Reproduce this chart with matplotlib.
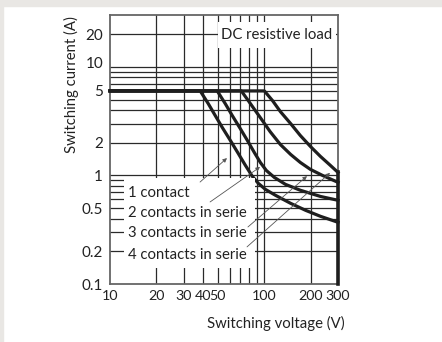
import matplotlib
matplotlib.use("Agg")
import matplotlib.pyplot as plt
from matplotlib.patches import Rectangle

# switching voltage (V) / current (A)
v_1 = [10, 38.4, 43.3, 48.1, 53.4, 60.2, 67.8, 75.3, 83.6, 91.4, 101.5, 118, 148, 185, 231, 300]
i_1 = [6, 6, 4.58, 3.55, 2.76, 2.10, 1.59, 1.24, 0.98, 0.845, 0.744, 0.656, 0.553, 0.477, 0.42, 0.37]
v_2 = [10, 49.5, 55.8, 62, 69.8, 77.6, 86.1, 94.2, 103, 116, 137, 171, 231, 300]
i_2 = [6, 6, 4.58, 3.55, 2.70, 2.10, 1.625, 1.316, 1.11, 0.959, 0.827, 0.73, 0.64, 0.59]
v_3 = [10, 70.9, 78.7, 87.4, 97.1, 109, 127, 148, 171, 199, 238, 300]
i_3 = [6, 6, 4.88, 3.95, 3.20, 2.53, 1.925, 1.56, 1.316, 1.135, 1.0, 0.863]
v_4 = [10, 100, 113, 127, 148, 171, 199, 231, 268, 300]
i_4 = [6, 6, 4.88, 3.87, 3.0, 2.33, 1.845, 1.494, 1.235, 1.065]
v_limit = [300, 300]
i_limit = [0.1, 1.07]

x_ticks = [10, 20, 30, 40, 50, 100, 200, 300]
x_grid = [20, 30, 40, 50, 60, 70, 80, 90, 100, 200]
y_grid = [0.2, 0.3, 0.4, 0.5, 0.6, 0.7, 0.8, 0.9, 1, 2, 3, 4, 5, 6, 7, 8, 9, 10, 20]
y_tick_pos = [0.1, 0.2, 0.5, 1, 2, 6.1, 11, 20]
y_tick_lab = ['0.1', '0.2', '0.5', '1', '2', '5', '10', '20']
labels = ['1 contact', '2 contacts in serie', '3 contacts in serie', '4 contacts in serie']

plt.rcParams['font.family'] = ['Lato', 'DejaVu Sans']
fig = plt.figure(figsize=(4.42, 3.42), dpi=100)
fig.patches.append(Rectangle((0, 1 - 6/342), 1, 6/342, transform=fig.transFigure, color='#e9e7e4', zorder=0))
fig.patches.append(Rectangle((0, 0), 3/442, 1, transform=fig.transFigure, color='#e9e7e4', zorder=0))

ax = fig.add_axes([110/442, 58/342, 228/442, 269/342])
ax.set_xscale('log')
ax.set_yscale('log')
ax.set_xlim(10, 300)
ax.set_ylim(0.1, 30)

for x in x_grid:
    ax.axvline(x, color='#2a2a2a', lw=0.9, zorder=1)
for y in y_grid:
    ax.axhline(y, color='#2a2a2a', lw=0.9, zorder=1)

lc = '#1e1e1e'
for v, i in [(v_1, i_1), (v_2, i_2), (v_3, i_3), (v_4, i_4)]:
    ax.plot(v, i, color=lc, lw=2.3, solid_joinstyle='round', zorder=3, clip_on=False)
ax.plot(v_limit, i_limit, color=lc, lw=2.6, zorder=3, clip_on=False)

# white boxes hiding the grid
ax.add_patch(Rectangle((0.061, 0.06), 0.575, 0.334, transform=ax.transAxes,
                       facecolor='white', edgecolor='none', zorder=4))
ax.add_patch(Rectangle((0.474, 0.877), 0.517, 0.097, transform=ax.transAxes,
                       facecolor='white', edgecolor='none', zorder=4))
ax.text(0.73, 0.926, 'DC resistive load', transform=ax.transAxes, ha='center', va='center',
        fontsize=10.7, color='#222222', zorder=5)

ys = [0.338, 0.264, 0.190, 0.108]
for lab, yy in zip(labels, ys):
    ax.text(0.079, yy, lab, transform=ax.transAxes, ha='left', va='center',
            fontsize=10.7, color='#222222', zorder=5)

leaders = [((0.395, 0.379), (0.513, 0.468)),
           ((0.439, 0.305), (0.658, 0.435)),
           ((0.605, 0.212), (0.864, 0.401)),
           ((0.601, 0.138), (0.965, 0.413))]
for start, tip in leaders:
    ax.annotate('', xy=tip, xytext=start, xycoords='axes fraction', textcoords='axes fraction',
                arrowprops=dict(arrowstyle='-|>', color='#555555', lw=0.6,
                                mutation_scale=6, shrinkA=0, shrinkB=0), zorder=6)

ax.set_xticks(x_ticks)
ax.set_xticklabels([str(t) for t in x_ticks])
ax.set_xticks([], minor=True)
ax.set_yticks(y_tick_pos)
ax.set_yticklabels(y_tick_lab)
ax.set_yticks([], minor=True)
ax.tick_params(length=0, labelsize=11, colors='#222222', pad=5)
ax.tick_params(axis='x', labelsize=10.3, pad=4)

for s in ax.spines.values():
    s.set_color('#666666')
    s.set_linewidth(1.3)

ax.text(-0.167, 0.743, 'Switching current (A)', transform=ax.transAxes, rotation=90,
        ha='center', va='center', fontsize=10.7, color='#222222')
ax.text(0.728, -0.145, 'Switching voltage (V)', transform=ax.transAxes,
        ha='center', va='center', fontsize=10.7, color='#222222')

fig.savefig('out.png', dpi=100, facecolor='white')
